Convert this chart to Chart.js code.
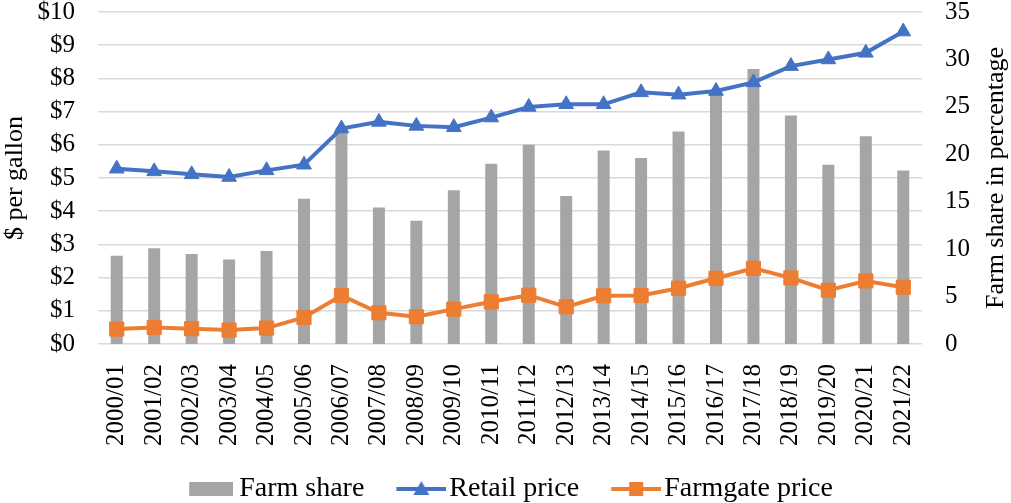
<!DOCTYPE html>
<html>
<head>
<meta charset="UTF-8" />
<script src="https://cdn.jsdelivr.net/npm/chart.js"></script>
<title>Farm share</title>
<style>
  body { margin: 0; background: white; }
  #wrap { width: 1011px; height: 503px; position: relative; }
</style>
</head>
<body>
<div id="wrap"><canvas id="chart"></canvas></div>
<script>
  // data
  var seasons = ['2000/01','2001/02','2002/03','2003/04','2004/05','2005/06','2006/07','2007/08','2008/09','2009/10','2010/11',
                 '2011/12','2012/13','2013/14','2014/15','2015/16','2016/17','2017/18','2018/19','2019/20','2020/21','2021/22'];
  var farmShare = [9.3, 10.1, 9.5, 8.9, 9.8, 15.3, 22.8, 14.4, 13.0, 16.2, 19.0,
                   21.0, 15.6, 20.4, 19.6, 22.4, 26.6, 29.0, 24.1, 18.9, 21.9, 18.3];
  var retailPrice = [5.28, 5.20, 5.11, 5.03, 5.23, 5.40, 6.49, 6.69, 6.57, 6.53, 6.82,
                     7.14, 7.22, 7.22, 7.58, 7.51, 7.62, 7.88, 8.37, 8.57, 8.77, 9.41];
  var farmgatePrice = [0.45, 0.50, 0.46, 0.42, 0.48, 0.80, 1.46, 0.94, 0.82, 1.05, 1.27,
                       1.47, 1.12, 1.45, 1.46, 1.68, 1.98, 2.28, 1.99, 1.62, 1.90, 1.71];

  var FONT = 'Liberation Serif, Times New Roman, serif';
  var GREY = '#a5a5a5', BLUE = '#4472c4', ORANGE = '#ed7d31';

  // legend pictures, drawn in the right part of a wider canvas to leave room on the left
  var legendIcon = function(color, shape) {
    var c = document.createElement('canvas');
    c.width = 69; c.height = 20;
    var g = c.getContext('2d');
    g.strokeStyle = color; g.lineWidth = 4;
    g.beginPath(); g.moveTo(19, 10); g.lineTo(69, 10); g.stroke();
    g.fillStyle = color;
    g.beginPath();
    if (shape == 'triangle') {
      g.moveTo(44, 2); g.lineTo(52, 16); g.lineTo(36, 16); g.closePath();
    } else {
      g.rect(37, 3, 14, 14);
    }
    g.fill();
    return c;
  };
  var boxIcon = function(color) {
    var c = document.createElement('canvas');
    c.width = 63; c.height = 14;
    var g = c.getContext('2d');
    g.fillStyle = color; g.fillRect(19, 0, 44, 14);
    return c;
  };
  var icons = [boxIcon(GREY), legendIcon(BLUE, 'triangle'), legendIcon(ORANGE, 'rect')];

  // right axis title reads bottom-to-top, draw it ourselves
  var rightTitle = {
    id: 'rightTitle',
    afterDraw: function(chart) {
      var ctx = chart.ctx, a = chart.chartArea;
      ctx.save();
      ctx.translate(996, (a.top + a.bottom) / 2);
      ctx.rotate(-Math.PI / 2);
      ctx.font = '26px ' + FONT;
      ctx.fillStyle = '#000';
      ctx.textAlign = 'center';
      ctx.textBaseline = 'middle';
      ctx.fillText('Farm share in percentage', 0, 0);
      ctx.restore();
    }
  };

  var noPad = function(s) {
    s.paddingTop = 0; s.paddingBottom = 0; s.paddingLeft = 0; s.paddingRight = 0;
  };

  Chart.defaults.font.family = FONT;
  Chart.defaults.color = '#000';

  new Chart(document.getElementById('chart'), {
    data: {
      labels: seasons,
      datasets: [
        {
          type: 'bar', label: 'Farm share', data: farmShare, yAxisID: 'y2',
          backgroundColor: GREY, categoryPercentage: 1, barPercentage: 0.32, order: 2
        },
        {
          type: 'line', label: 'Retail price', data: retailPrice, yAxisID: 'y',
          borderColor: BLUE, backgroundColor: BLUE, borderWidth: 4,
          pointStyle: 'triangle', pointRadius: 8.5, pointBorderWidth: 1, order: 1
        },
        {
          type: 'line', label: 'Farmgate price', data: farmgatePrice, yAxisID: 'y',
          borderColor: ORANGE, backgroundColor: ORANGE, borderWidth: 4,
          pointStyle: 'rect', pointRadius: 10, pointBorderWidth: 1, order: 0
        }
      ]
    },
    options: {
      responsive: true,
      maintainAspectRatio: false,
      animation: false,
      layout: { padding: { top: 12, bottom: 0, left: 0, right: 0 } },
      scales: {
        x: {
          grid: { display: false, drawTicks: false },
          border: { display: false },
          ticks: { minRotation: 90, maxRotation: 90, padding: 20, font: { size: 25 }, autoSkip: false },
          afterFit: function(s) { s.height = 107; noPad(s); }
        },
        y: {
          position: 'left', min: 0, max: 10,
          grid: { color: '#d9d9d9', lineWidth: 1.5, drawTicks: false },
          border: { display: false },
          ticks: { stepSize: 1, padding: 23, autoSkip: false, font: { size: 25, lineHeight: 1 },
                   callback: function(v) { return '$' + v; } },
          title: { display: true, text: '$ per gallon', font: { size: 26 }, padding: 0 },
          afterFit: function(s) { s.width = 98; noPad(s); }
        },
        y2: {
          position: 'right', min: 0, max: 35,
          grid: { display: false, drawTicks: false },
          border: { display: false },
          ticks: { stepSize: 5, padding: 23, autoSkip: false, font: { size: 25, lineHeight: 1 } },
          afterFit: function(s) { s.width = 89; noPad(s); }
        }
      },
      plugins: {
        tooltip: { enabled: false },
        legend: {
          position: 'bottom',
          maxHeight: 52,
          labels: {
            usePointStyle: true,
            pointStyleWidth: 47,
            padding: 24,
            font: { size: 28 },
            sort: function(a, b) { return a.datasetIndex - b.datasetIndex; },
            generateLabels: function(chart) {
              return chart.data.datasets.map(function(ds, i) {
                return { text: ds.label, datasetIndex: i, pointStyle: icons[i], fillStyle: ds.backgroundColor,
                         strokeStyle: ds.backgroundColor, lineWidth: 0, hidden: false, fontColor: '#000' };
              });
            }
          }
        }
      }
    },
    plugins: [rightTitle]
  });
</script>
</body>
</html>
